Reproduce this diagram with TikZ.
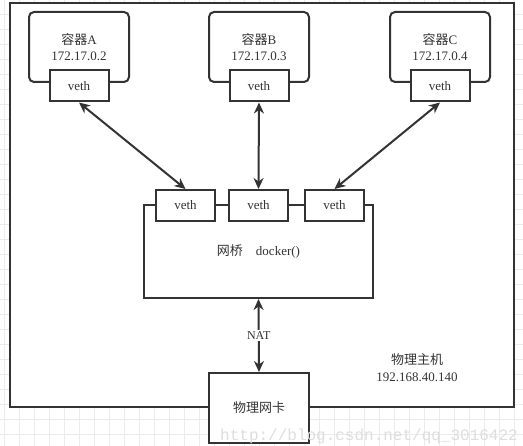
\documentclass[tikz,border=0pt]{standalone}
\usepackage{fontspec}
\setmainfont{Liberation Serif}
\setmonofont{Liberation Mono}
\newfontfamily\cjk{Noto Sans CJK SC}
\usetikzlibrary{arrows.meta,positioning}
\definecolor{ink}{HTML}{333333}
\definecolor{gridln}{HTML}{EBEBEB}

\begin{document}
\begin{tikzpicture}[x=1pt,y=-1pt,
    box/.style={draw=ink,line width=2pt,fill=white,inner sep=0pt,text=ink,font=\fontsize{13}{16}\selectfont},
    ctr/.style={box,rounded corners=5pt,minimum width=100pt,minimum height=70pt,align=center},
    veth/.style={box,minimum width=59pt,minimum height=31pt},
    link/.style={draw=ink,line width=2pt,{Stealth[length=11pt,width=10pt]}-{Stealth[length=11pt,width=10pt]}}]
    \useasboundingbox (0,0) rectangle (523,446);
    \clip (0,0) rectangle (523,446);
    \fill[white] (0,0) rectangle (523,446);
    % grid
    \foreach \x in {4,19,...,522} {
        \draw[gridln,line width=1pt] (\x,0) -- (\x,446);
    }
    \foreach \y in {0,15,...,446} {
        \draw[gridln,line width=1pt] (0,\y) -- (523,\y);
    }
    % host
    \node[box,minimum width=504pt,minimum height=404pt] (host) at (262,205) {};
    \node[align=center,text=ink,font=\fontsize{13}{17}\selectfont] (hostlbl) at (417,368) {{\cjk 物理主机}\\192.168.40.140};
    \node[box,minimum width=100pt,minimum height=70pt] (nic) at (259,408) {{\cjk 物理网卡}};
    % containers
    \foreach \n/\x/\ip in {A/79/172.17.0.2, B/259/172.17.0.3, C/440/172.17.0.4} {
        \node[ctr] (ctr\n) at (\x,47) {{\cjk 容器}\n\\\ip};
        \node[veth] (veth\n) at (\x,86) {veth};
    }
    % bridge
    \node[box,minimum width=229pt,minimum height=93pt] (bridge) at (258.5,251.5) {{\cjk 网桥}\hspace{13pt}docker()};
    \foreach \n/\x in {1/185.5, 2/258.5, 3/334.5} {
        \node[veth] (bveth\n) at (\x,205.5) {veth};
    }
    \foreach \a/\b in {A/1, B/2, C/3} {
        \draw[link] (veth\a.south) -- (bveth\b.north);
    }
    \draw[link] (bridge.south) -- (nic.north) node[midway,fill=white,text=ink,inner sep=2pt,font=\fontsize{12}{14}\selectfont] (nat) {NAT};
    % watermark
    \node[anchor=base west,inner sep=0pt,text=black!13,font=\ttfamily\fontsize{16}{16}\selectfont] (mark) at (220,441) {http://blog.csdn.net/qq\_3016422};
\end{tikzpicture}
\end{document}
